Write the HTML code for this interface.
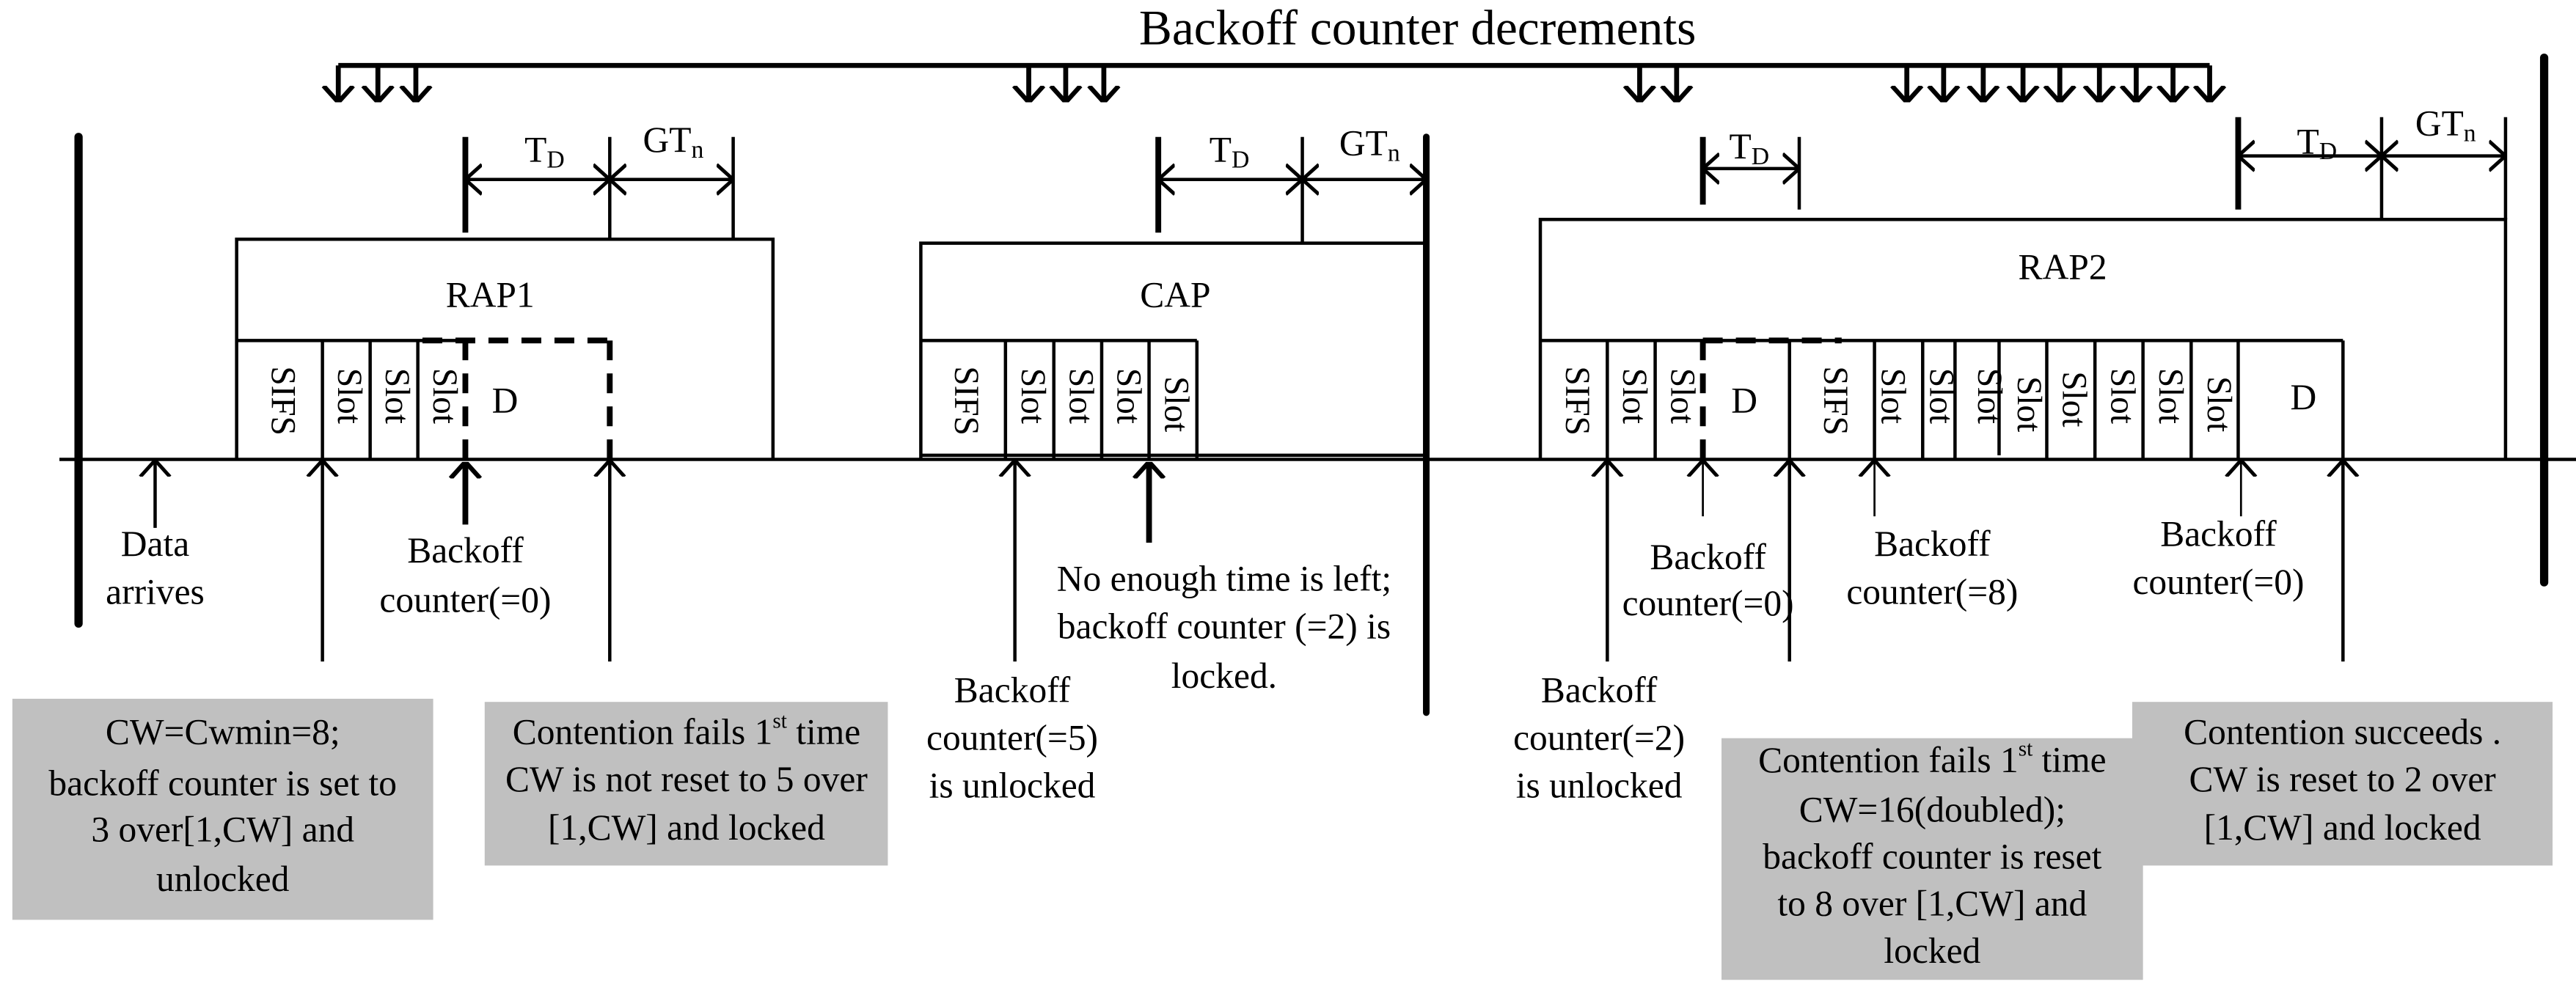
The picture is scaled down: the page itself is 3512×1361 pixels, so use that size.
<!DOCTYPE html>
<html><head><meta charset="utf-8"><style>
html,body{margin:0;padding:0;background:#fff;}
svg{display:block;}
text{font-family:"Liberation Serif",serif;fill:#000;}
</style></head><body>
<svg width="3512" height="1361" viewBox="0 0 1561 605" preserveAspectRatio="none" xmlns="http://www.w3.org/2000/svg">
<defs>
<marker id="ah" viewBox="0 0 10 20" refX="10" refY="10" markerWidth="10" markerHeight="20" markerUnits="userSpaceOnUse" orient="auto-start-reverse">
<path d="M0,1 L10,10 L0,19" fill="none" stroke="#000" stroke-width="2.2"/>
</marker>
<marker id="ah2" viewBox="0 0 10 20" refX="10" refY="10" markerWidth="10" markerHeight="21" markerUnits="userSpaceOnUse" orient="auto-start-reverse">
<path d="M0,1 L10,10 L0,19" fill="none" stroke="#000" stroke-width="2.8"/>
</marker>
</defs>
<rect width="1561" height="605" fill="#fff"/>

<g fill="#c0c0c0">
<rect x="7.5" y="423.6" width="255" height="134"/>
<rect x="293.7" y="425.5" width="244.3" height="99.2"/>
<rect x="1043.2" y="447.5" width="255.4" height="146.5"/>
<rect x="1292.1" y="425.5" width="254.7" height="99.2"/>
</g>

<text x="859" y="20" font-size="30" text-anchor="middle" dominant-baseline="middle">Backoff counter decrements</text>
<line x1="205" y1="39.7" x2="1339" y2="39.7" stroke="#000" stroke-width="3"/>
<g stroke="#000" stroke-width="3" marker-end="url(#ah2)">
<line x1="205" y1="39.7" x2="205" y2="62"/>
<line x1="229" y1="39.7" x2="229" y2="62"/>
<line x1="252" y1="39.7" x2="252" y2="62"/>
<line x1="623.4" y1="39.7" x2="623.4" y2="62"/>
<line x1="645.8" y1="39.7" x2="645.8" y2="62"/>
<line x1="668.9" y1="39.7" x2="668.9" y2="62"/>
<line x1="993.6" y1="39.7" x2="993.6" y2="62"/>
<line x1="1016" y1="39.7" x2="1016" y2="62"/>
<line x1="1155.5" y1="39.7" x2="1155.5" y2="62"/>
<line x1="1177.8" y1="39.7" x2="1177.8" y2="62"/>
<line x1="1201.8" y1="39.7" x2="1201.8" y2="62"/>
<line x1="1225.9" y1="39.7" x2="1225.9" y2="62"/>
<line x1="1248.2" y1="39.7" x2="1248.2" y2="62"/>
<line x1="1272.2" y1="39.7" x2="1272.2" y2="62"/>
<line x1="1294.5" y1="39.7" x2="1294.5" y2="62"/>
<line x1="1316.8" y1="39.7" x2="1316.8" y2="62"/>
<line x1="1339" y1="39.7" x2="1339" y2="62"/>
</g>

<g stroke="#000" stroke-linecap="round">
<line x1="47.6" y1="83" x2="47.6" y2="378" stroke-width="5"/>
<line x1="864.3" y1="83" x2="864.3" y2="432" stroke-width="4"/>
<line x1="1541.7" y1="35" x2="1541.7" y2="353" stroke-width="5"/>
</g>
<line x1="36" y1="278.5" x2="1561" y2="278.5" stroke="#000" stroke-width="2"/>

<!-- RAP1 -->
<g stroke="#000" stroke-width="2" fill="none">
<polyline points="143.4,278.5 143.4,145 468.4,145 468.4,278.5"/>
<line x1="143.4" y1="206.4" x2="282" y2="206.4"/>
<line x1="195.4" y1="206.4" x2="195.4" y2="278.5"/>
<line x1="224.3" y1="206.4" x2="224.3" y2="278.5"/>
<line x1="253.2" y1="206.4" x2="253.2" y2="278.5"/>
<line x1="369.5" y1="83" x2="369.5" y2="145"/>
<line x1="444.3" y1="83" x2="444.3" y2="145"/>
<line x1="282" y1="108.8" x2="369.5" y2="108.8" marker-start="url(#ah)" marker-end="url(#ah)"/>
<line x1="369.5" y1="108.8" x2="444.3" y2="108.8" marker-start="url(#ah)" marker-end="url(#ah)"/>
</g>
<line x1="282" y1="83" x2="282" y2="141" stroke="#000" stroke-width="3.5"/>
<g stroke="#000" stroke-width="3.5" fill="none" stroke-dasharray="12,8">
<line x1="256" y1="206.4" x2="369.5" y2="206.4"/>
<line x1="369.5" y1="206.4" x2="369.5" y2="278"/>
<line x1="282" y1="206.4" x2="282" y2="278"/>
</g>
<text x="330" y="93" font-size="22" text-anchor="middle" dominant-baseline="middle">T<tspan font-size="15" dy="5">D</tspan></text>
<text x="408" y="87" font-size="22" text-anchor="middle" dominant-baseline="middle">GT<tspan font-size="15" dy="5">n</tspan></text>
<text x="297" y="181" font-size="22" text-anchor="middle" dominant-baseline="middle">RAP1</text>
<text x="306" y="245" font-size="22" text-anchor="middle" dominant-baseline="middle">D</text>
<g font-size="21">
<text transform="translate(169.4,243) rotate(90)" text-anchor="middle" dominant-baseline="middle">SIFS</text>
<text transform="translate(209.8,240) rotate(90)" text-anchor="middle" dominant-baseline="middle">Slot</text>
<text transform="translate(238.7,240) rotate(90)" text-anchor="middle" dominant-baseline="middle">Slot</text>
<text transform="translate(267.6,240) rotate(90)" text-anchor="middle" dominant-baseline="middle">Slot</text>
</g>

<!-- CAP -->
<g stroke="#000" stroke-width="2" fill="none">
<polyline points="558,278.5 558,147.4 864.3,147.4"/>
<line x1="558" y1="276" x2="864" y2="276"/>
<line x1="558" y1="206.4" x2="725.3" y2="206.4"/>
<line x1="609.3" y1="206.4" x2="609.3" y2="278.5"/>
<line x1="638.6" y1="206.4" x2="638.6" y2="278.5"/>
<line x1="667.6" y1="206.4" x2="667.6" y2="278.5"/>
<line x1="696.3" y1="206.4" x2="696.3" y2="278.5"/>
<line x1="725.3" y1="206.4" x2="725.3" y2="278.5"/>
<line x1="789.2" y1="83" x2="789.2" y2="147.4"/>
<line x1="701.9" y1="108.8" x2="789.2" y2="108.8" marker-start="url(#ah)" marker-end="url(#ah)"/>
<line x1="789.2" y1="108.8" x2="864.3" y2="108.8" marker-start="url(#ah)" marker-end="url(#ah)"/>
</g>
<line x1="701.9" y1="83" x2="701.9" y2="141" stroke="#000" stroke-width="3.5"/>
<text x="745" y="93" font-size="22" text-anchor="middle" dominant-baseline="middle">T<tspan font-size="15" dy="5">D</tspan></text>
<text x="830" y="89" font-size="22" text-anchor="middle" dominant-baseline="middle">GT<tspan font-size="15" dy="5">n</tspan></text>
<text x="712.2" y="181" font-size="22" text-anchor="middle" dominant-baseline="middle">CAP</text>
<g font-size="21">
<text transform="translate(583.6,243) rotate(90)" text-anchor="middle" dominant-baseline="middle">SIFS</text>
<text transform="translate(624,240) rotate(90)" text-anchor="middle" dominant-baseline="middle">Slot</text>
<text transform="translate(653.1,240) rotate(90)" text-anchor="middle" dominant-baseline="middle">Slot</text>
<text transform="translate(682,240) rotate(90)" text-anchor="middle" dominant-baseline="middle">Slot</text>
<text transform="translate(710.8,245) rotate(90)" text-anchor="middle" dominant-baseline="middle">Slot</text>
</g>

<!-- RAP2 -->
<g stroke="#000" stroke-width="2" fill="none">
<polyline points="933.4,278.5 933.4,133 1518.3,133 1518.3,278.5"/>
<line x1="933.4" y1="206.4" x2="1419.8" y2="206.4"/>
<line x1="974" y1="206.4" x2="974" y2="278.5"/>
<line x1="1003" y1="206.4" x2="1003" y2="278.5"/>
<line x1="1084.4" y1="206.4" x2="1084.4" y2="278.5"/>
<line x1="1135.9" y1="206.4" x2="1135.9" y2="278.5"/>
<line x1="1165.1" y1="206.4" x2="1165.1" y2="278.5"/>
<line x1="1184.7" y1="206.4" x2="1184.7" y2="278.5"/>
<line x1="1211.4" y1="206.4" x2="1211.4" y2="276"/>
<line x1="1240.3" y1="206.4" x2="1240.3" y2="278.5"/>
<line x1="1269.5" y1="206.4" x2="1269.5" y2="278.5"/>
<line x1="1298.6" y1="206.4" x2="1298.6" y2="278.5"/>
<line x1="1327.8" y1="206.4" x2="1327.8" y2="278.5"/>
<line x1="1356.3" y1="206.4" x2="1356.3" y2="278.5"/>
<line x1="1419.8" y1="206.4" x2="1419.8" y2="278.5"/>
<line x1="1090.3" y1="83" x2="1090.3" y2="127"/>
<line x1="1031.9" y1="102.2" x2="1090.3" y2="102.2" marker-start="url(#ah)" marker-end="url(#ah)"/>
<line x1="1443.2" y1="71" x2="1443.2" y2="133"/>
<line x1="1518.3" y1="71" x2="1518.3" y2="133"/>
<line x1="1356.3" y1="94.5" x2="1443.2" y2="94.5" marker-start="url(#ah)" marker-end="url(#ah)"/>
<line x1="1443.2" y1="94.5" x2="1518.3" y2="94.5" marker-start="url(#ah)" marker-end="url(#ah)"/>
</g>
<g stroke="#000" stroke-width="3.5">
<line x1="1031.9" y1="83" x2="1031.9" y2="124"/>
<line x1="1356.3" y1="71" x2="1356.3" y2="127"/>
</g>
<g stroke="#000" stroke-width="3.5" fill="none" stroke-dasharray="12,8">
<line x1="1031.9" y1="206.4" x2="1116" y2="206.4"/>
<line x1="1031.9" y1="206.4" x2="1031.9" y2="278"/>
</g>
<text x="1060" y="91" font-size="22" text-anchor="middle" dominant-baseline="middle">T<tspan font-size="15" dy="5">D</tspan></text>
<text x="1404" y="88" font-size="22" text-anchor="middle" dominant-baseline="middle">T<tspan font-size="15" dy="5">D</tspan></text>
<text x="1482" y="77" font-size="22" text-anchor="middle" dominant-baseline="middle">GT<tspan font-size="15" dy="5">n</tspan></text>
<text x="1249.9" y="164" font-size="22" text-anchor="middle" dominant-baseline="middle">RAP2</text>
<text x="1057" y="245" font-size="22" text-anchor="middle" dominant-baseline="middle">D</text>
<text x="1395.8" y="243" font-size="22" text-anchor="middle" dominant-baseline="middle">D</text>
<g font-size="21">
<text transform="translate(953.7,243) rotate(90)" text-anchor="middle" dominant-baseline="middle">SIFS</text>
<text transform="translate(988.5,240) rotate(90)" text-anchor="middle" dominant-baseline="middle">Slot</text>
<text transform="translate(1017.5,240) rotate(90)" text-anchor="middle" dominant-baseline="middle">Slot</text>
<text transform="translate(1110.2,243) rotate(90)" text-anchor="middle" dominant-baseline="middle">SIFS</text>
<text transform="translate(1145.2,240) rotate(90)" text-anchor="middle" dominant-baseline="middle">Slot</text>
<text transform="translate(1174.4,240) rotate(90)" text-anchor="middle" dominant-baseline="middle">Slot</text>
<text transform="translate(1203.5,240) rotate(90)" text-anchor="middle" dominant-baseline="middle">Slot</text>
<text transform="translate(1227.6,245) rotate(90)" text-anchor="middle" dominant-baseline="middle">Slot</text>
<text transform="translate(1255,242) rotate(90)" text-anchor="middle" dominant-baseline="middle">Slot</text>
<text transform="translate(1284.2,240) rotate(90)" text-anchor="middle" dominant-baseline="middle">Slot</text>
<text transform="translate(1313.4,240) rotate(90)" text-anchor="middle" dominant-baseline="middle">Slot</text>
<text transform="translate(1342.6,245) rotate(90)" text-anchor="middle" dominant-baseline="middle">Slot</text>
</g>

<g stroke="#000" stroke-width="2" marker-end="url(#ah)">
<line x1="94" y1="320" x2="94" y2="279"/>
<line x1="195.4" y1="401" x2="195.4" y2="279"/>
<line x1="369.5" y1="401" x2="369.5" y2="279"/>
<line x1="615" y1="401" x2="615" y2="279"/>
<line x1="974" y1="401" x2="974" y2="279"/>
<line x1="1084.4" y1="401" x2="1084.4" y2="279"/>
<line x1="1419.8" y1="401" x2="1419.8" y2="279"/>
</g>
<g stroke="#000" stroke-width="1.2" marker-end="url(#ah)">
<line x1="1031.9" y1="313" x2="1031.9" y2="279"/>
<line x1="1135.9" y1="313" x2="1135.9" y2="279"/>
<line x1="1358" y1="313" x2="1358" y2="279"/>
</g>
<g stroke="#000" stroke-width="3.5" marker-end="url(#ah2)">
<line x1="282" y1="318" x2="282" y2="280"/>
<line x1="696.3" y1="329" x2="696.3" y2="280"/>
</g>

<g font-size="22" text-anchor="middle" dominant-baseline="middle">
<text x="94" y="332">Data</text>
<text x="94" y="361">arrives</text>
<text x="282" y="336">Backoff</text>
<text x="282" y="366">counter(=0)</text>
<text x="741.8" y="353">No enough time is left;</text>
<text x="741.8" y="382">backoff counter (=2) is</text>
<text x="741.8" y="412">locked.</text>
<text x="613.4" y="420.5">Backoff</text>
<text x="613.4" y="449.5">counter(=5)</text>
<text x="613.4" y="478.4">is unlocked</text>
<text x="969" y="420.5">Backoff</text>
<text x="969" y="449.5">counter(=2)</text>
<text x="969" y="478.4">is unlocked</text>
<text x="1035" y="340">Backoff</text>
<text x="1035" y="368">counter(=0)</text>
<text x="1170.9" y="332">Backoff</text>
<text x="1170.9" y="361">counter(=8)</text>
<text x="1344.3" y="326">Backoff</text>
<text x="1344.3" y="355">counter(=0)</text>

<text x="135" y="446">CW=Cwmin=8;</text>
<text x="135" y="477">backoff counter is set to</text>
<text x="135" y="505">3 over[1,CW] and</text>
<text x="135" y="535">unlocked</text>

<text x="416" y="446">Contention fails  1<tspan font-size="13" dy="-8">st</tspan><tspan dy="8"> time</tspan></text>
<text x="416" y="474.5">CW is not reset to  5 over</text>
<text x="416" y="504">[1,CW] and locked</text>

<text x="1170.9" y="463">Contention fails  1<tspan font-size="13" dy="-8">st</tspan><tspan dy="8"> time</tspan></text>
<text x="1170.9" y="493">CW=16(doubled);</text>
<text x="1170.9" y="521.6">backoff counter is reset</text>
<text x="1170.9" y="550">to  8 over [1,CW] and</text>
<text x="1170.9" y="578.7">locked</text>

<text x="1419.5" y="446">Contention succeeds .</text>
<text x="1419.5" y="474.5">CW is reset to 2 over</text>
<text x="1419.5" y="504">[1,CW] and locked</text>
</g>
</svg>
</body></html>
